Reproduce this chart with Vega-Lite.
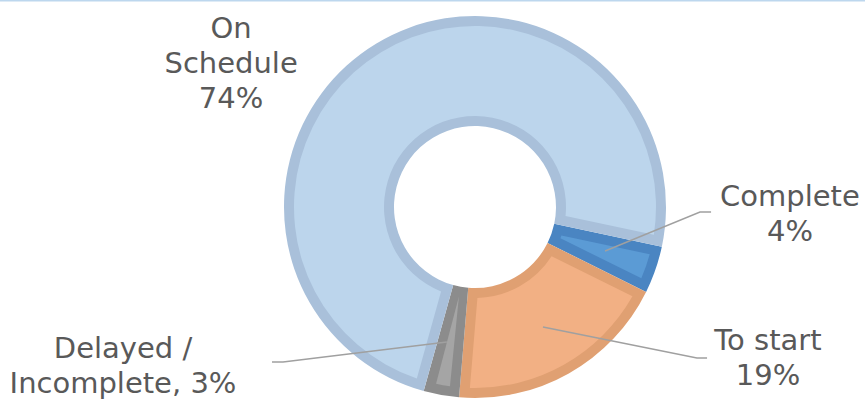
{
  "$schema": "https://vega.github.io/schema/vega-lite/v6.json",
  "width": 865,
  "height": 399,
  "autosize": {"type": "none"},
  "padding": 0,
  "background": "white",
  "config": {"view": {"stroke": null}},
  "datasets": {
    "status": [
      {"status": "Complete", "value": 4, "order": 1},
      {"status": "To start", "value": 19, "order": 2},
      {"status": "Delayed / Incomplete", "value": 3, "order": 3},
      {"status": "On Schedule", "value": 74, "order": 4}
    ],
    "labels": [
      {"label": "On\nSchedule\n74%", "x": -1.277, "y": 0.885},
      {"label": "Complete\n4%", "x": 1.649, "y": 0.005},
      {"label": "To start\n19%", "x": 1.534, "y": -0.749},
      {"label": "Delayed /\nIncomplete, 3%", "x": -1.843, "y": -0.791}
    ],
    "leaders": [
      {"id": "Complete", "seq": 1, "x": 0.681, "y": -0.230},
      {"id": "Complete", "seq": 2, "x": 1.178, "y": -0.026},
      {"id": "Complete", "seq": 3, "x": 1.236, "y": -0.026},
      {"id": "To start", "seq": 1, "x": 0.356, "y": -0.628},
      {"id": "To start", "seq": 2, "x": 1.162, "y": -0.791},
      {"id": "To start", "seq": 3, "x": 1.215, "y": -0.791},
      {"id": "Delayed", "seq": 1, "x": -0.147, "y": -0.707},
      {"id": "Delayed", "seq": 2, "x": -1.005, "y": -0.812},
      {"id": "Delayed", "seq": 3, "x": -1.063, "y": -0.812}
    ]
  },
  "resolve": {"scale": {"color": "independent"}},
  "layer": [
    {
      "data": {"values": [{}]},
      "mark": {"type": "rule", "color": "#bdd7ee", "strokeWidth": 3},
      "encoding": {
        "y": {"datum": 1.0838, "type": "quantitative", "scale": {"domain": [-1.0052, 1.0838], "nice": false, "zero": false}, "axis": null}
      }
    },
    {
      "data": {"name": "status"},
      "mark": {"type": "arc", "outerRadius": 191, "innerRadius": 81},
      "encoding": {
        "x": {"datum": 0, "type": "quantitative", "scale": {"domain": [-2.487, 2.042], "nice": false, "zero": false}, "axis": null},
        "y": {"datum": 0, "type": "quantitative", "scale": {"domain": [-1.0052, 1.0838], "nice": false, "zero": false}, "axis": null},
        "theta": {"field": "value", "type": "quantitative", "stack": true, "scale": {"range": [1.78, 8.063]}},
        "order": {"field": "order", "type": "quantitative"},
        "color": {"field": "status", "type": "nominal", "legend": null,
          "scale": {"domain": ["Complete", "To start", "Delayed / Incomplete", "On Schedule"], "range": ["#4a85c2", "#e0a072", "#8c8c8c", "#a9c0da"]}}
      }
    },
    {
      "data": {"name": "status"},
      "mark": {"type": "arc", "outerRadius": 181, "innerRadius": 91, "padAngle": 0.0987},
      "encoding": {
        "x": {"datum": 0, "type": "quantitative", "scale": {"domain": [-2.487, 2.042], "nice": false, "zero": false}, "axis": null},
        "y": {"datum": 0, "type": "quantitative", "scale": {"domain": [-1.0052, 1.0838], "nice": false, "zero": false}, "axis": null},
        "theta": {"field": "value", "type": "quantitative", "stack": true, "scale": {"range": [1.78, 8.063]}},
        "order": {"field": "order", "type": "quantitative"},
        "color": {"field": "status", "type": "nominal", "legend": null,
          "scale": {"domain": ["Complete", "To start", "Delayed / Incomplete", "On Schedule"], "range": ["#5b9bd5", "#f2b084", "#a5a5a5", "#bcd5ec"]}}
      }
    },
    {
      "data": {"name": "leaders"},
      "mark": {"type": "line", "color": "#a0a0a0", "strokeWidth": 1.5},
      "encoding": {
        "x": {"field": "x", "type": "quantitative", "scale": {"domain": [-2.487, 2.042], "nice": false, "zero": false}, "axis": null},
        "y": {"field": "y", "type": "quantitative", "scale": {"domain": [-1.0052, 1.0838], "nice": false, "zero": false}, "axis": null},
        "detail": {"field": "id", "type": "nominal"},
        "order": {"field": "seq", "type": "quantitative"}
      }
    },
    {
      "data": {"name": "labels"},
      "mark": {"type": "text", "font": "DejaVu Sans", "fontSize": 29, "color": "#595959", "align": "center", "baseline": "alphabetic", "lineBreak": "\n", "lineHeight": 35},
      "encoding": {
        "x": {"field": "x", "type": "quantitative", "scale": {"domain": [-2.487, 2.042], "nice": false, "zero": false}, "axis": null},
        "y": {"field": "y", "type": "quantitative", "scale": {"domain": [-1.0052, 1.0838], "nice": false, "zero": false}, "axis": null},
        "text": {"field": "label", "type": "nominal"}
      }
    }
  ]
}
